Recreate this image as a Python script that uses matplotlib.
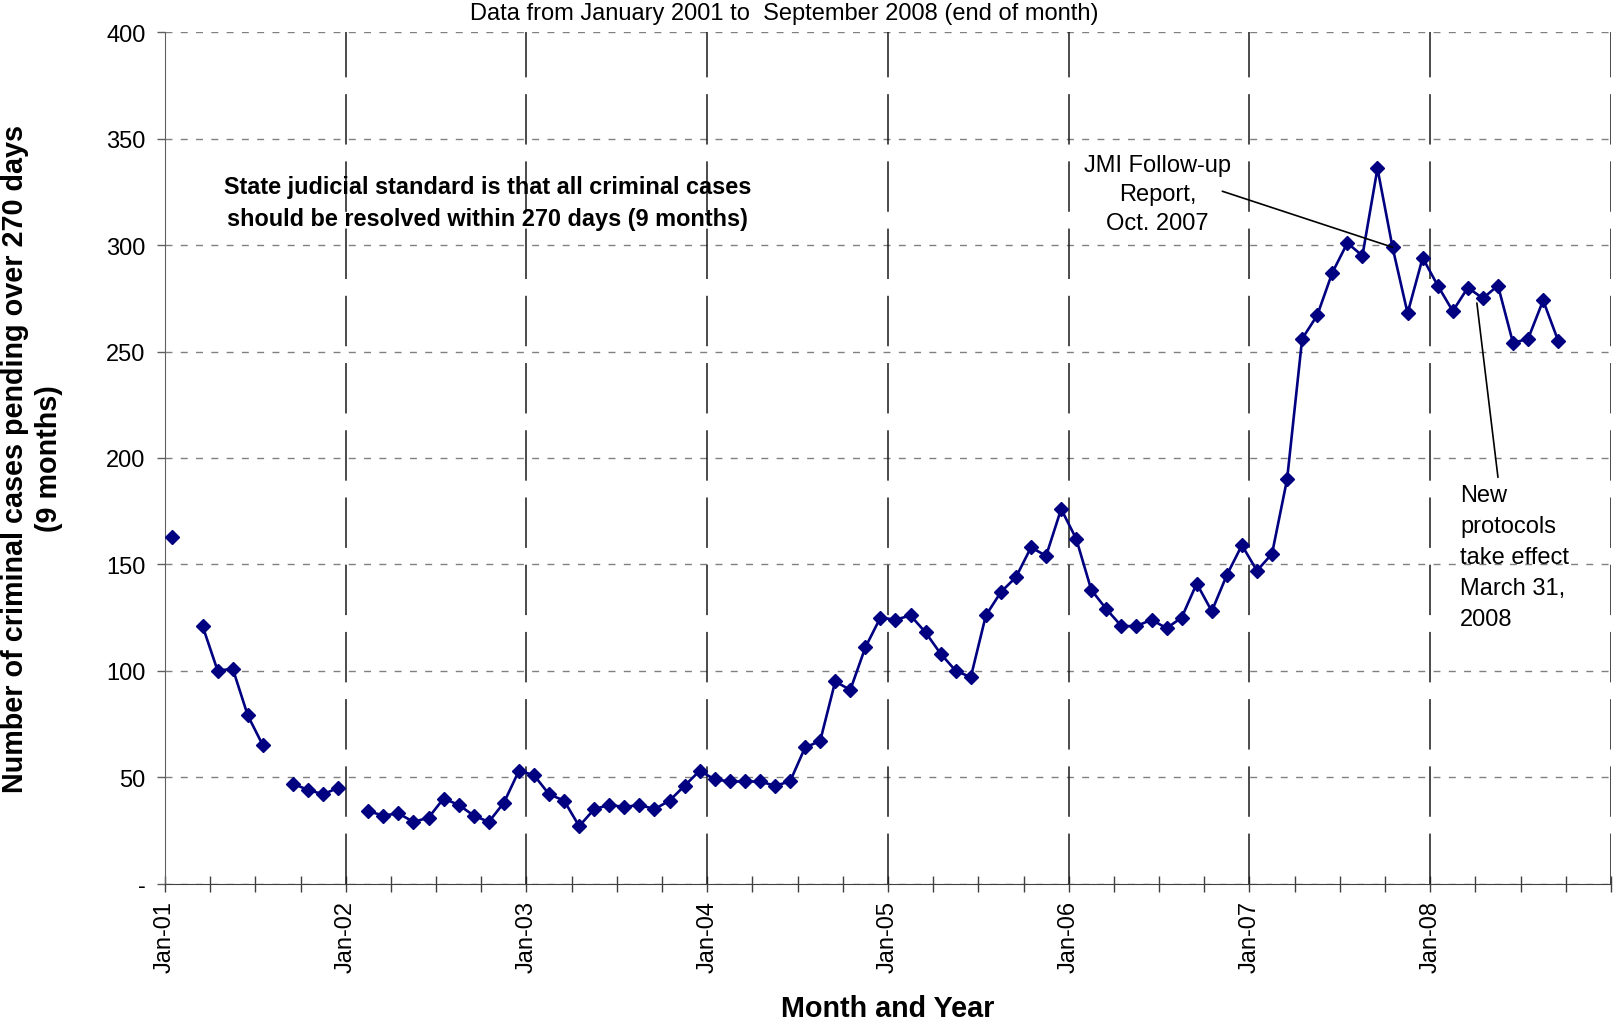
import numpy as np
import matplotlib
matplotlib.use('Agg')
import matplotlib.pyplot as plt
from matplotlib.ticker import MultipleLocator, FixedLocator, FuncFormatter

plt.rcParams['font.family'] = ['Liberation Sans', 'DejaVu Sans']

# monthly values, Jan-01 .. Sep-08 (nan = no data that month)
y2001 = [163, np.nan, 121, 100, 101, 79, 65, np.nan, 47, 44, 42, 45]
y2002 = [np.nan, 34, 32, 33, 29, 31, 40, 37, 32, 29, 38, 53]
y2003 = [51, 42, 39, 27, 35, 37, 36, 37, 35, 39, 46, 53]
y2004 = [49, 48, 48, 48, 46, 48, 64, 67, 95, 91, 111, 125]
y2005 = [124, 126, 118, 108, 100, 97, 126, 137, 144, 158, 154, 176]
y2006 = [162, 138, 129, 121, 121, 124, 120, 125, 141, 128, 145, 159]
y2007 = [147, 155, 190, 256, 267, 287, 301, 295, 336, 299, 268, 294]
y2008 = [281, 269, 280, 275, 281, 254, 256, 274, 255]
year_labels = ['Jan-01', 'Jan-02', 'Jan-03', 'Jan-04', 'Jan-05', 'Jan-06', 'Jan-07', 'Jan-08']

cases = np.array(y2001 + y2002 + y2003 + y2004 + y2005 + y2006 + y2007 + y2008, dtype=float)
months = np.arange(len(cases)) + 0.5   # points sit in the middle of each month

fig = plt.figure(figsize=(16.14, 10.2), dpi=100)
ax = fig.add_axes([0.1022, 0.1327, 0.8959, 0.8347])

ax.plot(months, cases, color='#000080', lw=1.9, marker='D', markersize=7.3,
        markerfacecolor='#000080', markeredgecolor='#000080', zorder=3)

ax.set_xlim(0, 96)
ax.set_ylim(0, 400)

# y axis
ax.yaxis.set_major_locator(MultipleLocator(50))
ax.yaxis.set_major_formatter(FuncFormatter(lambda v, p: '-' if v == 0 else '%d' % v))
ax.yaxis.grid(True, color='#808080', lw=1, linestyle=(0, (5, 6)))
ax.tick_params(axis='y', direction='out', length=6, width=1, color='#606060',
               labelsize=17, pad=8)

# x axis: label each January, tick each quarter
ax.xaxis.set_major_locator(FixedLocator(np.arange(0, 96, 12)))
ax.xaxis.set_minor_locator(MultipleLocator(3))
ax.set_xticklabels(year_labels, rotation=90)
ax.tick_params(axis='x', which='both', direction='inout', length=11, width=1,
               color='#404040', labelsize=17, pad=6)
for lbl in ax.get_xticklabels():
    lbl.set_x(lbl.get_position()[0])
for xv in range(12, 97, 12):
    ax.axvline(xv, color='#1a1a1a', lw=1.1, linestyle=(0, (33, 11)), zorder=1)

for s in ['top', 'right']:
    ax.spines[s].set_visible(False)
ax.spines['left'].set_color('#606060')
ax.spines['bottom'].set_color('#404040')
ax.set_axisbelow(True)

ax.set_ylabel('Number of criminal cases pending over 270 days\n(9 months)',
              fontsize=20.7, fontweight='bold', linespacing=1.26)
ax.yaxis.set_label_coords(-0.092, 0.5)
ax.yaxis.label.set_va('center')
ax.set_xlabel('Month and Year', fontsize=20.7, fontweight='bold')
ax.xaxis.set_label_coords(0.5, -0.146)
ax.xaxis.label.set_va('center')

fig.text(0.486, 0.986, 'Data from January 2001 to  September 2008 (end of month)',
         ha='center', va='center', fontsize=17)

ax.text(21.4, 320, 'State judicial standard is that all criminal cases\n'
        'should be resolved within 270 days (9 months)',
        ha='center', va='center', fontsize=16.9, fontweight='bold', linespacing=1.46)

# annotations
i_oct07 = 81
ax.annotate('', xy=(months[i_oct07], cases[i_oct07]), xytext=(70.2, 325.3),
            arrowprops=dict(arrowstyle='-', color='black', lw=1.2, shrinkA=0, shrinkB=0))
ax.text(65.9, 324, 'JMI Follow-up\nReport,\nOct. 2007', ha='center', va='center',
        fontsize=17, linespacing=1.42)

ax.annotate('', xy=(88.5, 190.9), xytext=(87.1, 272.8),
            arrowprops=dict(arrowstyle='-', color='black', lw=1.2, shrinkA=0, shrinkB=0))
ax.text(86.0, 153.5, 'New\nprotocols\ntake effect\nMarch 31,\n2008', ha='left', va='center',
        fontsize=17, linespacing=1.52)

fig.savefig('out.png', dpi=100)
